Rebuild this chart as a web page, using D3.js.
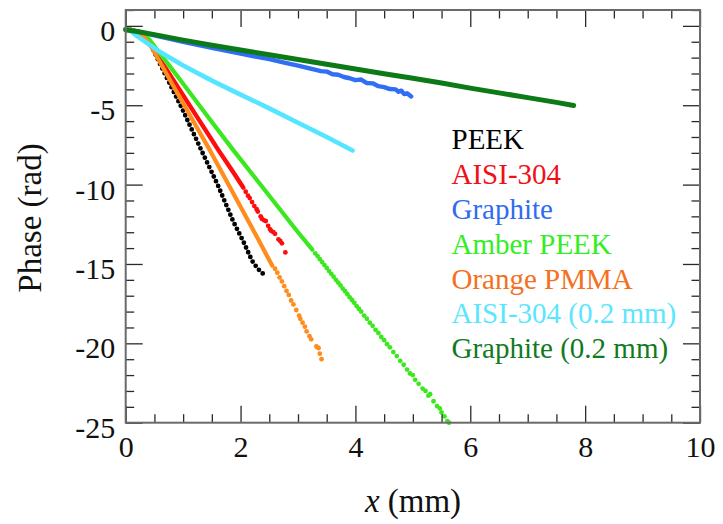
<!DOCTYPE html>
<html>
<head>
<meta charset="utf-8">
<script src="https://cdn.jsdelivr.net/npm/d3@7"></script>
<style>
  html, body { margin: 0; padding: 0; background: #fff; }
  svg { display: block; }
</style>
</head>
<body>
<svg id="chart" width="723" height="524"></svg>
<script>
// ---------------- DATA ----------------
const seriesNames = ["PEEK", "AISI-304", "Graphite", "Amber PEEK", "Orange PMMA", "AISI-304 (0.2 mm)", "Graphite (0.2 mm)"];

const xTickValues = [0, 2, 4, 6, 8, 10];
const xTickLabels = ["0", "2", "4", "6", "8", "10"];
const yTickValues = [0, -5, -10, -15, -20, -25];
const yTickLabels = ["0", "-5", "-10", "-15", "-20", "-25"];

// PEEK (black) – densely dotted trace
const peekTrace = [[0,-0.2],[0.15,-0.3],[0.3,-0.6],[0.45,-1.3],[0.7,-3.15],[1.0,-5.35],[1.32,-7.86],[1.6,-10.0],[1.87,-12.3],[2.05,-13.6],[2.2,-14.8],[2.3,-15.3],[2.4,-15.65]];

// AISI-304 (red) – continuous part, then scattered points
const aisiTrace = [[0,-0.2],[0.15,-0.3],[0.3,-0.6],[0.45,-1.3],[0.8,-3.25],[1.2,-5.5],[1.62,-7.86],[1.85,-9.1],[2.05,-10.2]];
const aisiPoints = [[2.09,-10.45],[2.13,-10.7],[2.16,-10.85],[2.2,-11.1],[2.24,-11.35],[2.28,-11.55],[2.3,-11.7],[2.35,-12.0],[2.37,-12.15],[2.41,-12.25],[2.44,-12.3],[2.48,-12.6],[2.51,-12.8],[2.53,-12.9],[2.57,-13.0],[2.6,-13.1],[2.66,-13.45],[2.69,-13.55],[2.72,-13.7],[2.78,-14.27]];

// Graphite (blue)
const graphiteTrace = [[0,-0.25],[0.2,-0.35],[0.5,-0.6],[1,-1.0],[1.5,-1.38],[2,-1.75],[2.5,-2.1],[2.8,-2.35],[3,-2.5],[3.2,-2.68],[3.4,-2.85],[3.5,-2.88],[3.6,-3.05],[3.7,-3.08],[3.8,-3.22],[3.9,-3.3],[4.0,-3.42],[4.1,-3.38],[4.2,-3.6],[4.3,-3.62],[4.4,-3.8],[4.5,-3.86],[4.6,-3.98],[4.7,-4.0],[4.75,-4.15],[4.8,-4.08],[4.85,-4.3],[4.9,-4.25],[4.97,-4.45]];

// Amber PEEK (green)
const amberTrace = [[0,-0.2],[0.15,-0.3],[0.3,-0.5],[0.42,-0.9],[0.6,-1.75],[1.0,-3.65],[1.5,-6.05],[1.88,-7.86],[2.5,-10.7],[3.0,-13.0],[3.25,-14.1]];
const amberPoints = [[3.3,-14.33],[3.34,-14.5],[3.38,-14.7],[3.42,-14.88],[3.46,-15.07],[3.5,-15.25],[3.54,-15.45],[3.58,-15.62],[3.62,-15.8],[3.66,-16.0],[3.7,-16.17],[3.74,-16.35],[3.78,-16.55],[3.82,-16.72],[3.86,-16.9],[3.9,-17.1],[3.94,-17.27],[3.98,-17.45],[4.02,-17.65],[4.06,-17.82],[4.1,-18.0],[4.15,-18.25],[4.2,-18.45],[4.25,-18.7],[4.3,-18.9],[4.35,-19.15],[4.4,-19.35],[4.45,-19.6],[4.5,-19.8],[4.55,-20.05],[4.6,-20.25],[4.66,-20.55],[4.72,-20.8],[4.78,-21.1],[4.84,-21.35],[4.9,-21.65],[4.95,-21.9],[5.0,-22.0],[5.04,-22.3],[5.1,-22.55],[5.17,-22.85],[5.22,-23.0],[5.27,-23.3],[5.3,-23.2],[5.36,-23.65],[5.42,-23.95],[5.47,-24.1],[5.5,-24.35],[5.55,-24.6],[5.6,-24.9],[5.63,-25.0]];

// Orange PMMA (orange)
const pmmaTrace = [[0,-0.2],[0.15,-0.3],[0.3,-0.6],[0.45,-1.35],[0.8,-3.6],[1.2,-6.15],[1.47,-7.86],[2.0,-11.4],[2.3,-13.4],[2.55,-15.1]];
const pmmaPoints = [[2.6,-15.3],[2.64,-15.55],[2.68,-15.85],[2.72,-16.1],[2.76,-16.4],[2.8,-16.7],[2.84,-16.95],[2.88,-17.3],[2.92,-17.55],[2.97,-17.9],[3.02,-18.25],[3.04,-18.45],[3.08,-18.7],[3.12,-18.95],[3.15,-19.25],[3.2,-19.55],[3.23,-19.75],[3.32,-20.2],[3.34,-20.25],[3.36,-20.3],[3.38,-20.65],[3.41,-21.0]];

// AISI-304 (0.2 mm) (cyan)
const aisiThinTrace = [[0,-0.2],[0.1,-0.35],[0.2,-0.65],[0.4,-1.15],[0.6,-1.65],[1,-2.5],[1.5,-3.45],[2,-4.33],[2.5,-5.2],[3,-6.1],[3.5,-7.0],[3.95,-7.85]];

// Graphite (0.2 mm) (dark green)
const graphiteThinTrace = [[0,-0.25],[0.2,-0.35],[0.5,-0.55],[1,-0.9],[1.5,-1.22],[2,-1.52],[2.5,-1.82],[3,-2.12],[3.5,-2.42],[4,-2.72],[4.5,-3.02],[5,-3.3],[5.5,-3.6],[6,-3.92],[6.5,-4.22],[7,-4.52],[7.5,-4.82],[7.8,-5.02]];

// ---------------- DRAWING ----------------
(function () {
const svg = d3.select("#chart");
const FONT = "'Liberation Serif', 'Times New Roman', Times, serif";
const pL = 125.7, pR = 700, pT = 10, pB = 422.7;

const x = d3.scaleLinear().domain([0, 10]).range([pL, pR]);
const y = d3.scaleLinear().domain([-25, 1]).range([pB, pT]);

const line = d3.line().x(d => x(d[0])).y(d => y(d[1]));

const colors = {
  peek: "#000000",
  aisi: "#ff0d0d",
  graphite: "#2f6ef5",
  amber: "#3be81f",
  pmma: "#ff8c1c",
  aisiThin: "#55e6ff",
  graphiteThin: "#0c7a16"
};
const textColors = ["#000000", "#f0101a", "#2f6cf0", "#33ee22", "#f47020", "#5be6ff", "#117a1e"];

const plot = svg.append("g");

function trace(data, color, width, dash) {
  const p = plot.append("path").datum(data)
    .attr("d", line)
    .attr("fill", "none")
    .attr("stroke", color)
    .attr("stroke-width", width)
    .attr("stroke-linecap", "round")
    .attr("stroke-linejoin", "round");
  if (dash) p.attr("stroke-dasharray", dash);
}
function points(data, color, r) {
  plot.append("g").selectAll("circle").data(data).join("circle")
    .attr("cx", d => x(d[0])).attr("cy", d => y(d[1]))
    .attr("r", r).attr("fill", color);
}

trace(peekTrace, colors.peek, 4.8, "0 5.2");
trace(aisiTrace, colors.aisi, 4.4);
points(aisiPoints, colors.aisi, 2.4);
trace(graphiteTrace, colors.graphite, 4.4);
trace(amberTrace, colors.amber, 4.2);
points(amberPoints, colors.amber, 2.4);
trace(pmmaTrace, colors.pmma, 4.2);
points(pmmaPoints, colors.pmma, 2.4);
trace(aisiThinTrace, colors.aisiThin, 4.6);
trace(graphiteThinTrace, colors.graphiteThin, 5);

// ---------------- AXES ----------------
const MAJ = 17, MIN = 8.5;
const xMinor = d3.range(0, 10.001, 0.5).filter(v => Math.abs(v % 2) > 1e-6);
const yMinor = d3.range(-25, 1.001, 1).filter(v => v % 5 !== 0);

function styleAxis(g) {
  g.select(".domain").remove();
  g.selectAll(".tick line").attr("stroke", "#2a2a2a").attr("stroke-width", 1.3);
  g.selectAll("text").attr("font-family", FONT).attr("font-size", 30).attr("fill", "#111");
}

svg.append("g").attr("transform", `translate(0,${pB})`)
  .call(d3.axisBottom(x).tickValues(xTickValues).tickSize(-MAJ).tickPadding(13.5)
    .tickFormat((d, i) => xTickLabels[i]))
  .call(styleAxis);
svg.append("g").attr("transform", `translate(0,${pB})`)
  .call(d3.axisBottom(x).tickValues(xMinor).tickSize(-MIN).tickFormat(""))
  .call(styleAxis);
svg.append("g").attr("transform", `translate(0,${pT})`)
  .call(d3.axisTop(x).tickValues(xTickValues).tickSize(-MAJ).tickFormat(""))
  .call(styleAxis);
svg.append("g").attr("transform", `translate(0,${pT})`)
  .call(d3.axisTop(x).tickValues(xMinor).tickSize(-MIN).tickFormat(""))
  .call(styleAxis);
const gl = svg.append("g").attr("transform", `translate(${pL},0)`)
  .call(d3.axisLeft(y).tickValues(yTickValues).tickSize(-MAJ).tickPadding(10.5)
    .tickFormat((d, i) => yTickLabels[i]))
  .call(styleAxis);
gl.selectAll("text").attr("dy", "0.48em");
svg.append("g").attr("transform", `translate(${pL},0)`)
  .call(d3.axisLeft(y).tickValues(yMinor).tickSize(-MIN).tickFormat(""))
  .call(styleAxis);
svg.append("g").attr("transform", `translate(${pR},0)`)
  .call(d3.axisRight(y).tickValues(yTickValues).tickSize(-MAJ).tickFormat(""))
  .call(styleAxis);
svg.append("g").attr("transform", `translate(${pR},0)`)
  .call(d3.axisRight(y).tickValues(yMinor).tickSize(-MIN).tickFormat(""))
  .call(styleAxis);

svg.append("rect")
  .attr("x", pL).attr("y", pT)
  .attr("width", pR - pL).attr("height", pB - pT)
  .attr("fill", "none").attr("stroke", "#6a6a6a").attr("stroke-width", 2);

svg.append("text")
  .attr("transform", "translate(41,218) rotate(-90)")
  .attr("text-anchor", "middle")
  .attr("font-family", FONT).attr("font-size", 33).attr("fill", "#111")
  .text("Phase (rad)");

const xt = svg.append("text")
  .attr("x", 413).attr("y", 512)
  .attr("text-anchor", "middle")
  .attr("font-family", FONT).attr("font-size", 33).attr("fill", "#111");
xt.append("tspan").attr("font-style", "italic").text("x");
xt.append("tspan").text(" (mm)");

const legendBaselines = [149.3, 184, 219, 254, 288.5, 323.3, 358.3];
svg.append("g").selectAll("text").data(seriesNames).join("text")
  .attr("x", 451.5)
  .attr("y", (d, i) => legendBaselines[i])
  .attr("font-family", FONT).attr("font-size", 29)
  .attr("fill", (d, i) => textColors[i])
  .text(d => d);
})();
</script>
</body>
</html>
